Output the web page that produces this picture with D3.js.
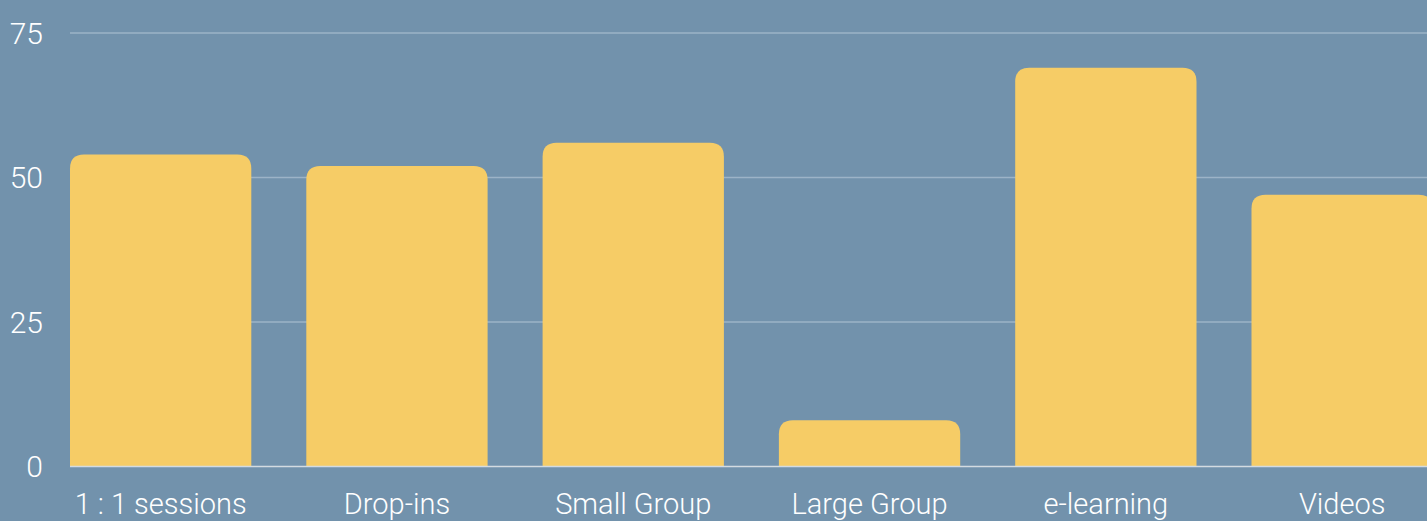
<!DOCTYPE html>
<html>
<head>
<meta charset="utf-8">
<script src="https://cdn.jsdelivr.net/npm/d3@7"></script>
<style>
  html, body { margin: 0; padding: 0; background: #7292ac; overflow: hidden; }
  svg { display: block; }
  text { font-family: Roboto, "DejaVu Sans", sans-serif; fill: #fff; }
</style>
</head>
<body>
<div id="main"></div>
<script>
// data
var categories = ["1 : 1 sessions", "Drop-ins", "Small Group", "Large Group", "e-learning", "Videos"];
var values = [54, 52, 56, 8, 69, 47];
var yTicks = [0, 25, 50, 75];

var width = 1427, height = 521;
var left = 70, baseY = 466.5, topY = 33;

var svg = d3.select("#main").append("svg")
    .attr("width", width)
    .attr("height", height);

var x = d3.scaleBand()
    .domain(categories)
    .range([left, left + 1362.8])
    .paddingInner(0.2327)
    .paddingOuter(0);

var y = d3.scaleLinear()
    .domain([0, 75])
    .range([baseY, topY]);

// grid lines
svg.append("g")
    .selectAll("line")
    .data(yTicks.filter(d => d > 0))
    .enter().append("line")
    .attr("x1", left)
    .attr("x2", width)
    .attr("y1", d => y(d))
    .attr("y2", d => y(d))
    .attr("stroke", "#9cb3c7")
    .attr("stroke-width", 1.5);

// y labels
svg.append("g")
    .selectAll("text")
    .data(yTicks)
    .enter().append("text")
    .attr("x", 43)
    .attr("y", d => y(d))
    .attr("dy", "0.36em")
    .attr("text-anchor", "end")
    .attr("font-size", 30)
    .attr("font-weight", 300)
    .text(d => d);

// bars with rounded tops
function barPath(x0, w, yTop, yBot, r) {
    r = Math.min(r, (yBot - yTop), w / 2);
    return "M" + x0 + "," + yBot +
        "V" + (yTop + r) +
        "Q" + x0 + "," + yTop + " " + (x0 + r) + "," + yTop +
        "H" + (x0 + w - r) +
        "Q" + (x0 + w) + "," + yTop + " " + (x0 + w) + "," + (yTop + r) +
        "V" + yBot + "Z";
}

svg.append("g")
    .selectAll("path")
    .data(categories)
    .enter().append("path")
    .attr("fill", "#f6cc66")
    .attr("d", (d, i) => barPath(x(d), x.bandwidth(), y(values[i]), y(0), 14));

// baseline
svg.append("line")
    .attr("x1", left)
    .attr("x2", width)
    .attr("y1", y(0))
    .attr("y2", y(0))
    .attr("stroke", "#d3dbe1")
    .attr("stroke-width", 1.5);

// x labels
svg.append("g")
    .selectAll("text")
    .data(categories)
    .enter().append("text")
    .attr("x", d => x(d) + x.bandwidth() / 2)
    .attr("y", 514)
    .attr("text-anchor", "middle")
    .attr("font-size", 29)
    .attr("font-weight", 300)
    .text(d => d);
</script>
</body>
</html>
